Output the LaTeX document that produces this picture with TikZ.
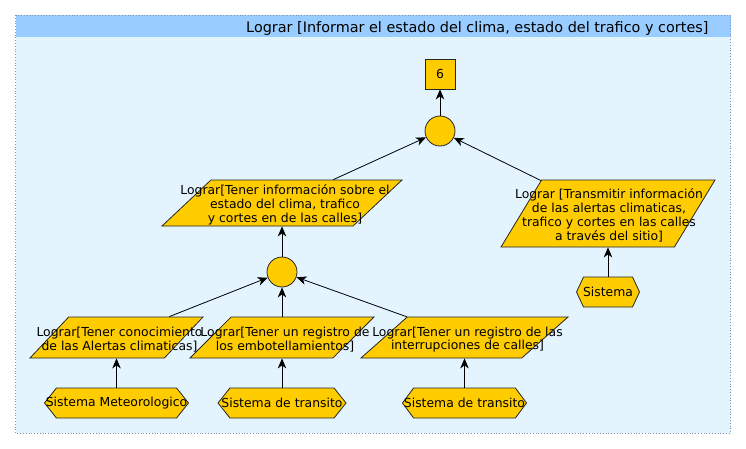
\documentclass[tikz,border=0pt]{standalone}
\usepackage{fontspec}
\setmainfont{DejaVu Sans}
\usetikzlibrary{arrows.meta,shapes.geometric,shapes.symbols}

\definecolor{goldfill}{RGB}{255,204,0}
\definecolor{panelfill}{RGB}{227,244,255}
\definecolor{headfill}{RGB}{153,204,255}
\definecolor{panelline}{RGB}{130,146,178}

\tikzset{
	lograr/.style={draw=black!85, line width=0.8pt, fill=goldfill, trapezium, trapezium stretches=true,
		trapezium left angle=#1, trapezium right angle=180-#1, inner sep=1pt},
	lograr/.default=68,
	sistema/.style={draw=black!85, line width=0.8pt, fill=goldfill, signal, signal to=east and west,
		signal pointer angle=#1, inner sep=1pt, minimum height=30pt},
	sistema/.default=103,
	orgate/.style={draw=black!85, line width=0.8pt, fill=goldfill, circle, minimum size=30pt, inner sep=0pt},
	goalbox/.style={draw=black!85, line width=0.8pt, fill=goldfill, rectangle, minimum size=30pt, inner sep=0pt},
	txt/.style={align=center, font=\fontsize{12.4}{13.8}\selectfont},
	lograrlbl/.style={txt, xshift=3pt, yshift=-2pt},
	flow/.style={line width=0.8pt, -{Stealth[length=10pt,width=8.5pt,inset=3pt]}}
}

\begin{document}
\begin{tikzpicture}[x=1pt,y=-1pt,node distance=57pt]
				\useasboundingbox (0,0) rectangle (746,449);
				\fill[panelfill] (15.5,15) rectangle (730.5,433);
				\fill[headfill] (15.5,15) rectangle (730.5,37);
				\draw[panelline,dotted,line width=0.8pt] (15.5,15) rectangle (730.5,433);
				\node[anchor=base east,font=\fontsize{14.4}{16}\selectfont] (title) at (712,32.3)
					{Lograr [Informar el estado del clima, estado del trafico y cortes]};

				\node[goalbox,txt] (goal) at (440,74) {6};
				\node[orgate] (orTop) [below of=goal] {};

				\node[lograr=71, minimum width=240pt, minimum height=46pt] (pL) [below of=orTop, xshift=-158pt, yshift=-15pt] {};
				\node[lograrlbl] (pLtext) at (pL) {Lograr[Tener información sobre el\\estado del clima, trafico\\ y cortes en de las calles]};
				\node[lograr=73, minimum width=214pt, minimum height=67pt] (pR) [below of=orTop, xshift=168pt, yshift=-25.5pt] {};
				\node[lograrlbl,xshift=-2pt] (pRtext) at (pR) {Lograr [Transmitir información\\de las alertas climaticas,\\trafico y cortes en las calles\\a través del sitio]};
				\node[sistema=130, minimum width=63pt] (sisS) [below of=pR, yshift=-21.5pt] {};
				\node[txt] (sisStext) at (sisS) {Sistema};

				\node[orgate] (orMid) [below of=pL, yshift=-12pt] {};

				\node[lograr, minimum width=173pt, minimum height=41pt] (p1) [below of=orMid, xshift=-165.5pt, yshift=-8.5pt] {};
				\node[lograrlbl] (p1text) at (p1) {Lograr[Tener conocimiento\\de las Alertas climaticas]};
				\node[lograr, minimum width=184pt, minimum height=41pt] (p2) [below of=orMid, yshift=-8.5pt] {};
				\node[lograrlbl] (p2text) at (p2) {Lograr[Tener un registro de\\los embotellamientos]};
				\node[lograr, minimum width=207pt, minimum height=41pt] (p3) [below of=orMid, xshift=182.5pt, yshift=-8.5pt] {};
				\node[lograrlbl] (p3text) at (p3) {Lograr[Tener un registro de las\\interrupciones de calles]};

				\node[sistema, minimum width=144pt] (sisM) [below of=p1, yshift=-8.5pt] {};
				\node[txt] (sisMtext) at (sisM) {Sistema Meteorologico};
				\node[sistema, minimum width=128pt] (sisT1) [below of=p2, yshift=-8.5pt] {};
				\node[txt] (sisT1text) at (sisT1) {Sistema de transito};
				\node[sistema=107, minimum width=124pt] (sisT2) [below of=p3, yshift=-8.5pt] {};
				\node[txt] (sisT2text) at (sisT2) {Sistema de transito};

				\draw[flow]
				(orTop) edge (goal)
				(pL) edge (orTop)
				(pR) edge (orTop)
				(sisS) edge (pR)
				(orMid) edge (pL)
				(p1) edge (orMid)
				(p2) edge (orMid)
				(p3) edge (orMid)
				(sisM) edge (p1)
				(sisT1) edge (p2)
				(sisT2) edge (p3);
\end{tikzpicture}
\end{document}
